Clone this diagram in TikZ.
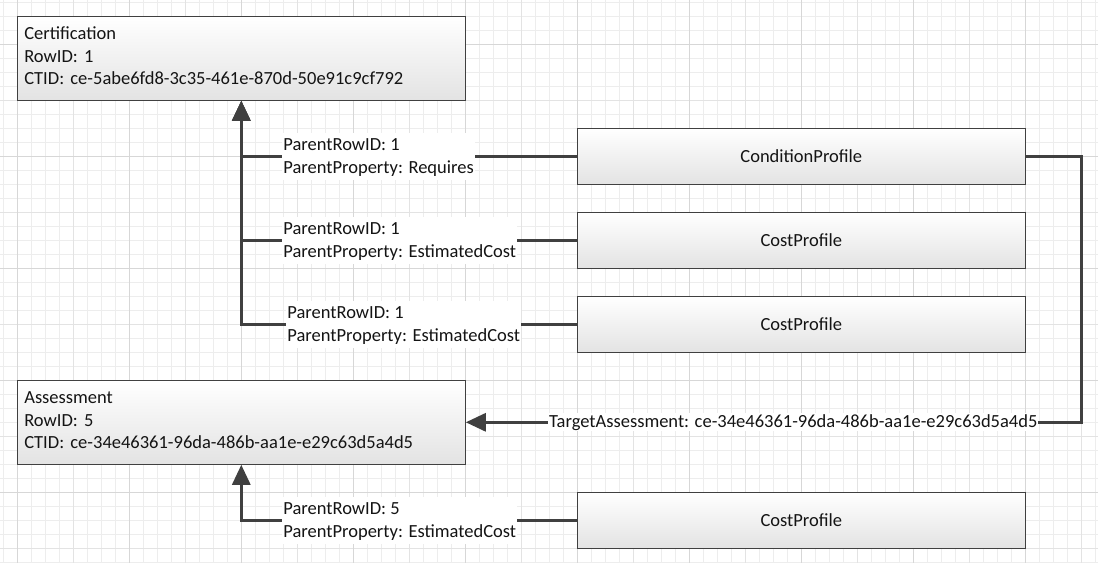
\documentclass[tikz,border=0pt]{standalone}
\usepackage{fontspec}
\setmainfont{Carlito}
\usetikzlibrary{arrows.meta}
\definecolor{lnc}{HTML}{404040}
\definecolor{gminor}{HTML}{EDEDED}
\definecolor{gmed}{HTML}{E3E3E3}
\definecolor{gmaj}{HTML}{D7D7D7}
\newcommand{\topstrut}[1]{\rule{0pt}{#1}}
\newcommand{\botstrut}[1]{\rule[-#1]{0pt}{#1}}
\begin{document}
\begin{tikzpicture}[x=1pt,y=-1pt,
  txt/.style={font=\fontsize{18.5pt}{22.7pt}\selectfont, text=black!92},
  bigbox/.style={txt, draw=lnc, line width=1pt, top color=white, bottom color=black!11,
    minimum width=448pt, minimum height=84pt, text width=434pt, inner xsep=7pt, inner ysep=0pt, align=left},
  profbox/.style={txt, draw=lnc, line width=1pt, top color=white, bottom color=black!11,
    minimum width=448pt, minimum height=56pt, inner sep=0pt},
  lbl/.style={txt, fill=white, inner ysep=2pt, inner xsep=1pt, align=left},
  conn/.style={draw=lnc, line width=3pt},
  arr/.style={conn, -{Triangle[length=20pt,width=18pt]}}
]
\useasboundingbox (0,0) rectangle (1098,563);
\fill[white] (0,0) rectangle (1098,563);
% grid
\foreach \i in {0,...,78} \draw[gminor, line width=1pt] ({3.3+14*\i},0) -- ({3.3+14*\i},563);
\foreach \i in {0,...,40} \draw[gminor, line width=1pt] (0,{2.3+14*\i}) -- (1098,{2.3+14*\i});
\foreach \k in {0,...,9} \draw[gmed, line width=1pt] ({73.3+112*\k},0) -- ({73.3+112*\k},563);
\foreach \k in {0,...,4} \draw[gmed, line width=1pt] (0,{100.3+112*\k}) -- (1098,{100.3+112*\k});
\foreach \k in {0,...,9} \draw[gmaj, line width=1pt] ({17.3+112*\k},0) -- ({17.3+112*\k},563);
\foreach \k in {0,...,4} \draw[gmaj, line width=1pt] (0,{44.3+112*\k}) -- (1098,{44.3+112*\k});

% boxes
\node[bigbox] (cert) at (241.3,58.3) {\topstrut{14pt}Certification\\RowID: 1\\CTID: ce-5abe6fd8-3c35-461e-870d-50e91c9cf792\botstrut{6.6pt}};
\node[bigbox] (asmt) at (241.3,422.3) {\topstrut{14pt}Assessment\\RowID: 5\\CTID: ce-34e46361-96da-486b-aa1e-e29c63d5a4d5\botstrut{6.6pt}};
\node[profbox] (cond) at (801.3,156.3) {ConditionProfile};
\node[profbox] (cost1) at (801.3,240.3) {CostProfile};
\node[profbox] (cost2) at (801.3,324.3) {CostProfile};
\node[profbox] (cost3) at (801.3,520.3) {CostProfile};

% connectors
\draw[arr] (cond.west) -- node[lbl, pos=0.882, anchor=west] {\topstrut{16pt}ParentRowID: 1\\ParentProperty: Requires\botstrut{4.5pt}} (cond.west -| cert.south) -- (cert.south);
\draw[arr] (cost1.west) -- node[lbl, pos=0.882, anchor=west] {\topstrut{16pt}ParentRowID: 1\\ParentProperty: EstimatedCost\botstrut{4.5pt}} (cost1.west -| cert.south) -- (cert.south);
\draw[arr] (cost2.west) -- node[lbl, pos=0.870, anchor=west] {\topstrut{16pt}ParentRowID: 1\\ParentProperty: EstimatedCost\botstrut{4.5pt}} (cost2.west -| cert.south) -- (cert.south);
\draw[arr] (cost3.west) -- node[lbl, pos=0.882, anchor=west] {\topstrut{16pt}ParentRowID: 5\\ParentProperty: EstimatedCost\botstrut{4.5pt}} (cost3.west -| asmt.south) -- (asmt.south);
\coordinate (r1) at (1081.3,156.3);
\coordinate (r2) at (1081.3,422.3);
\draw[arr] (cond.east) -- (r1) -- (r2) -- node[lbl, pos=0.468, inner sep=1pt] {TargetAssessment: ce-34e46361-96da-486b-aa1e-e29c63d5a4d5} (asmt.east);
\end{tikzpicture}
\end{document}
